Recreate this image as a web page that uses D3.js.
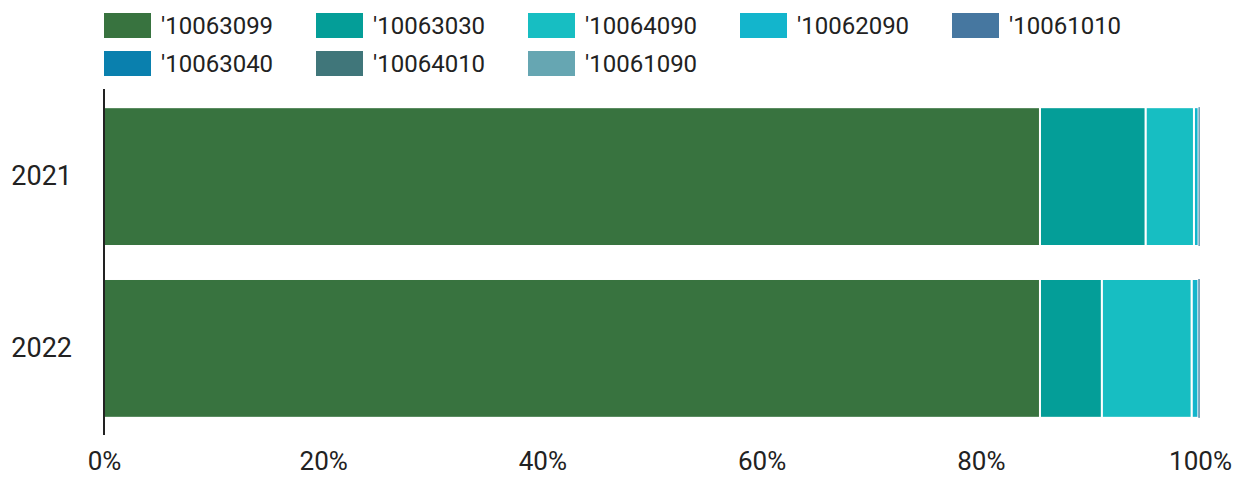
<!DOCTYPE html>
<html>
<head>
<meta charset="utf-8">
<script src="https://cdn.jsdelivr.net/npm/d3@7"></script>
<style>
  body { margin: 0; background: #fff; }
  svg text { font-family: Roboto, "Noto Sans", sans-serif; fill: #222; }
</style>
</head>
<body>
<div id="container"></div>
<script>
const years = ["2021", "2022"];
const codes = ["'10063099", "'10063030", "'10064090", "'10062090", "'10061010", "'10063040", "'10064010", "'10061090"];
const colors = ["#38733f", "#049e98", "#17bec2", "#13b5cc", "#4677a0", "#0a80ae", "#40767a", "#66a6b2"];
// share (%) of each code per year, same order as codes
const share2021 = [85.4, 9.65, 4.4, 0.42, 0.08, 0.02, 0.02, 0.01];
const share2022 = [85.4, 5.65, 8.2, 0.6, 0.1, 0.02, 0.02, 0.01];
const tickValues = [0, 20, 40, 60, 80, 100];

const W = 1237, H = 479;
const margin = { top: 90, right: 37, bottom: 44, left: 104 };

const svg = d3.select("#container").append("svg")
  .attr("width", W).attr("height", H);

const x = d3.scaleLinear().domain([0, 100]).range([margin.left, W - margin.right]);
const y = d3.scaleBand().domain(years).range([margin.top, H - margin.bottom]).paddingInner(0.192).paddingOuter(0.1);

const rows = years.map((yr, i) => {
  const vals = i === 0 ? share2021 : share2022;
  const row = { year: yr };
  codes.forEach((c, j) => row[c] = vals[j]);
  return row;
});
const series = d3.stack().keys(codes)(rows);

svg.append("g").selectAll("g")
  .data(series)
  .join("g")
  .attr("fill", (d, i) => colors[i])
  .selectAll("rect")
  .data(d => d)
  .join("rect")
  .attr("x", d => x(d[0]))
  .attr("y", d => y(d.data.year))
  .attr("width", d => Math.max(0, x(d[1]) - x(d[0])))
  .attr("height", y.bandwidth())
  .attr("stroke", "#fff")
  .attr("stroke-width", d => (x(d[1]) - x(d[0])) > 3 ? 2 : 0);

// y axis
const yAxis = svg.append("g")
  .attr("transform", `translate(${margin.left},0)`)
  .call(d3.axisLeft(y).tickSize(0).tickPadding(32));
yAxis.select(".domain").attr("stroke", "#222").attr("stroke-width", 2)
  .attr("d", `M0,${margin.top - 1}V${H - margin.bottom}`);
yAxis.selectAll("text").attr("font-size", 27).attr("fill", "#222");

// x axis
const xAxis = svg.append("g")
  .attr("transform", `translate(0,${H - margin.bottom})`)
  .call(d3.axisBottom(x).tickValues(tickValues).tickFormat(d => d + "%").tickSize(0).tickPadding(17));
xAxis.select(".domain").remove();
xAxis.selectAll("text").attr("font-size", 26).attr("fill", "#222");

// legend
const legend = svg.append("g");
const item = legend.selectAll("g")
  .data(codes)
  .join("g")
  .attr("transform", (d, i) => `translate(${104 + (i % 5) * 212},${13 + Math.floor(i / 5) * 38})`);
item.append("rect")
  .attr("width", 47).attr("height", 25)
  .attr("fill", (d, i) => colors[i]);
item.append("text")
  .attr("x", 57).attr("y", 13).attr("dy", "0.35em")
  .attr("font-size", 24)
  .text(d => d);
</script>
</body>
</html>
